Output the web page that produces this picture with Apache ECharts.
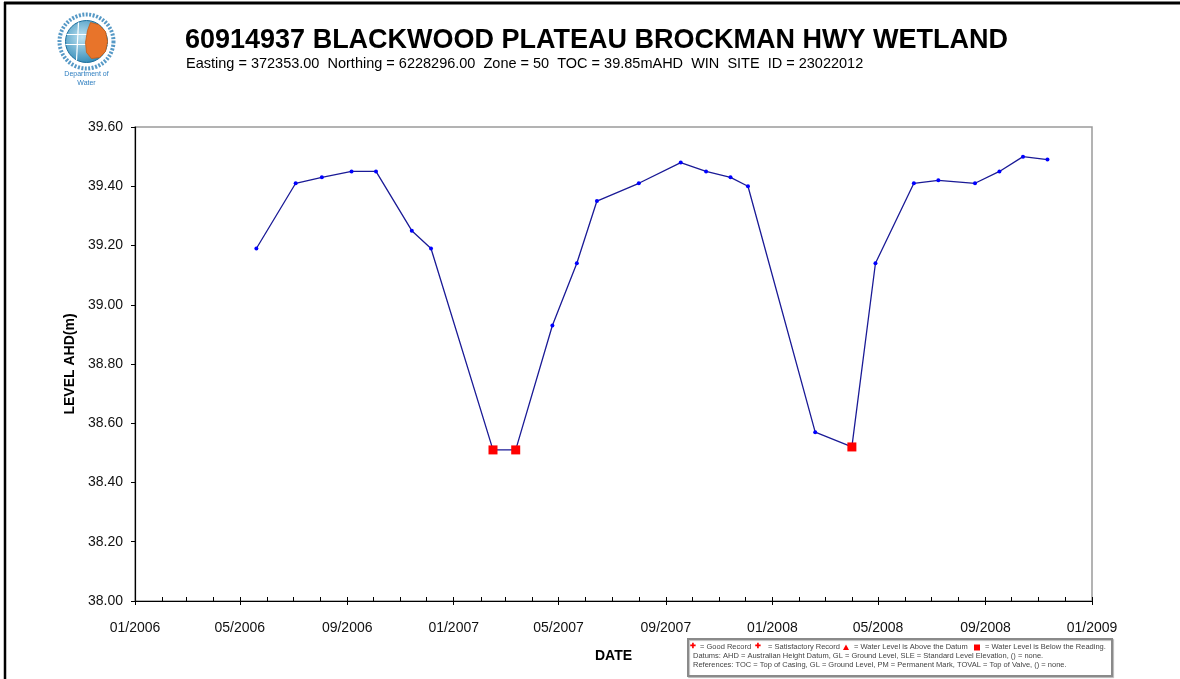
<!DOCTYPE html>
<html>
<head>
<meta charset="utf-8">
<title>60914937 BLACKWOOD PLATEAU BROCKMAN HWY WETLAND</title>
<style>
  html, body { margin: 0; padding: 0; background: #fff; }
  #chart { width: 1180px; height: 679px; }
</style>
</head>
<body>
<div id="chart"></div>
<script src="https://cdn.jsdelivr.net/npm/echarts@6/dist/echarts.min.js"></script>
<script>
// readings
var sampleDates = ['2006-05-20', '2006-07-04', '2006-08-03', '2006-09-06', '2006-10-04', '2006-11-14', '2006-12-06',
  '2007-02-15', '2007-03-13', '2007-04-24', '2007-05-22', '2007-06-14', '2007-08-01', '2007-09-18', '2007-10-17',
  '2007-11-14', '2007-12-04', '2008-02-19', '2008-04-01', '2008-04-28', '2008-06-11', '2008-07-09', '2008-08-20',
  '2008-09-17', '2008-10-14', '2008-11-11'];
var levels = [39.19, 39.41, 39.43, 39.45, 39.45, 39.25, 39.19,
  38.51, 38.51, 38.93, 39.14, 39.35, 39.41, 39.48, 39.45,
  39.43, 39.40, 38.57, 38.52, 39.14, 39.41, 39.42, 39.41,
  39.45, 39.50, 39.49];
// B = water level below the reading, G = good record
var recordStatus = ['G', 'G', 'G', 'G', 'G', 'G', 'G',
  'B', 'B', 'G', 'G', 'G', 'G', 'G', 'G',
  'G', 'G', 'G', 'B', 'G', 'G', 'G', 'G',
  'G', 'G', 'G'];
var majorTicks = ['2006-01', '2006-05', '2006-09', '2007-01', '2007-05', '2007-09', '2008-01', '2008-05', '2008-09', '2009-01'];

var titleText = '60914937 BLACKWOOD PLATEAU BROCKMAN HWY WETLAND';
var subText = 'Easting = 372353.00  Northing = 6228296.00  Zone = 50  TOC = 39.85mAHD  WIN  SITE  ID = 23022012';

function ts(s) {
  var p = s.split('-');
  return Date.UTC(+p[0], +p[1] - 1, p[2] ? +p[2] : 1);
}
function pad(n) { return n < 10 ? '0' + n : '' + n; }

var xMin = ts('2006-01');
var xMax = ts('2009-01');
var majorVals = majorTicks.map(ts);
var monthVals = [];
for (var y = 2006; y <= 2008; y++) {
  for (var m = 0; m < 12; m++) monthVals.push(Date.UTC(y, m, 1));
}
monthVals.push(xMax);

var points = sampleDates.map(function (d, i) {
  var item = { value: [ts(d), levels[i]] };
  if (recordStatus[i] === 'B') {
    item.symbol = 'rect';
    item.symbolSize = 9;
    item.itemStyle = { color: '#ff0000' };
  }
  return item;
});

var font = '"Liberation Sans", Arial, sans-serif';
var keyFont = '7.5px ' + font;
var chart = echarts.init(document.getElementById('chart'), null, { renderer: 'canvas' });

chart.setOption({
  backgroundColor: '#fff',
  animation: false,
  textStyle: { fontFamily: font },
  grid: {
    left: 135, right: 88, top: 127, bottom: 78,
    show: true, borderColor: '#9a9a9a', borderWidth: 1.5, backgroundColor: '#fff'
  },
  xAxis: [{
    type: 'value',
    min: xMin, max: xMax,
    name: 'DATE', nameLocation: 'middle', nameGap: 48,
    nameTextStyle: { fontSize: 14, fontWeight: 'bold', color: '#000' },
    axisLine: { lineStyle: { color: '#000', width: 1.2 } },
    axisTick: { show: true, inside: false, length: 4, customValues: majorVals, lineStyle: { color: '#000' } },
    axisLabel: {
      customValues: majorVals, margin: 20, fontSize: 14, color: '#111',
      formatter: function (v) {
        var d = new Date(v);
        return pad(d.getUTCMonth() + 1) + '/' + d.getUTCFullYear();
      }
    },
    splitLine: { show: false }
  }, {
    type: 'value',
    min: xMin, max: xMax,
    position: 'bottom',
    axisLine: { show: false },
    axisTick: { show: true, inside: true, length: 4, customValues: monthVals, lineStyle: { color: '#000' } },
    axisLabel: { show: false },
    splitLine: { show: false }
  }],
  yAxis: {
    type: 'value',
    min: 38, max: 39.6, interval: 0.2,
    name: 'LEVEL AHD(m)', nameLocation: 'middle', nameGap: 56,
    nameTextStyle: { fontSize: 14, fontWeight: 'bold', color: '#000' },
    axisLine: { show: true, lineStyle: { color: '#000', width: 1.2 } },
    axisTick: { show: true, inside: false, length: 4, lineStyle: { color: '#000' } },
    axisLabel: {
      margin: 12, fontSize: 14, color: '#111',
      formatter: function (v) { return v.toFixed(2); }
    },
    splitLine: { show: false }
  },
  series: [{
    type: 'line',
    data: points,
    symbol: 'circle',
    symbolSize: 4,
    itemStyle: { color: '#0000ff' },
    lineStyle: { color: '#1a1a96', width: 1.3 }
  }],
  graphic: [
    // page frame
    { type: 'line', shape: { x1: 4, y1: 3, x2: 1180, y2: 3 }, style: { stroke: '#000', lineWidth: 3 } },
    { type: 'line', shape: { x1: 5, y1: 2, x2: 5, y2: 679 }, style: { stroke: '#000', lineWidth: 2.5 } },
    // logo
    {
      type: 'group', left: 57, top: 12,
      children: [
        { type: 'circle', shape: { cx: 28, cy: 27, r: 27 }, style: { fill: 'none', stroke: '#2c7fb8', lineWidth: 4, lineDash: [2, 1.5], opacity: 0.8 } },
        {
          type: 'circle', shape: { cx: 28, cy: 27, r: 21 },
          style: {
            fill: new echarts.graphic.RadialGradient(0.4, 0.4, 0.7, [
              { offset: 0, color: '#bfe3f2' }, { offset: 1, color: '#1f7fb0' }
            ]),
            stroke: '#1b6e9c', lineWidth: 1
          }
        },
        { type: 'line', shape: { x1: 8, y1: 20, x2: 48, y2: 20 }, style: { stroke: '#ffffff', lineWidth: 1.2 } },
        { type: 'line', shape: { x1: 7, y1: 30, x2: 49, y2: 30 }, style: { stroke: '#ffffff', lineWidth: 1.2 } },
        { type: 'line', shape: { x1: 20, y1: 8, x2: 18, y2: 46 }, style: { stroke: '#ffffff', lineWidth: 1.2 } },
        {
          type: 'polygon',
          shape: { points: [[32, 8], [40, 10], [47, 17], [49, 27], [47, 37], [41, 43], [33, 44], [28, 38], [27, 28], [29, 16]] },
          style: { fill: '#e8742a', stroke: '#c75a14', lineWidth: 0.8 }
        },
        { type: 'text', x: 28, y: 56, style: { text: 'Department of', fill: '#2f7fc0', font: '7px ' + font, align: 'center' } },
        { type: 'text', x: 28, y: 65, style: { text: 'Water', fill: '#2f7fc0', font: '7px ' + font, align: 'center' } }
      ]
    },
    // title
    { type: 'text', x: 185, y: 27, style: { text: titleText, fill: '#000', font: 'bold 27px ' + font } },
    { type: 'text', x: 186, y: 56, style: { text: subText, fill: '#000', font: '14.5px ' + font } },
    // key box
    {
      type: 'rect', shape: { x: 688, y: 639, width: 424, height: 37 },
      style: { fill: '#fff', stroke: '#8a8a8a', lineWidth: 2, shadowColor: 'rgba(0,0,0,0.25)', shadowOffsetX: 1, shadowOffsetY: 1, shadowBlur: 1 }
    },
    { type: 'text', x: 690, y: 643, style: { text: '✚', fill: '#ff0000', font: 'bold 7px ' + font } },
    { type: 'text', x: 700, y: 643, style: { text: '= Good Record', fill: '#444', font: keyFont } },
    { type: 'text', x: 755, y: 643, style: { text: '✚', fill: '#ff0000', font: 'bold 7px ' + font } },
    { type: 'text', x: 768, y: 643, style: { text: '= Satisfactory Record', fill: '#444', font: keyFont } },
    { type: 'polygon', shape: { points: [[843, 650], [849, 650], [846, 644.5]] }, style: { fill: '#ff0000' } },
    { type: 'text', x: 854, y: 643, style: { text: '= Water Level is Above the Datum', fill: '#444', font: keyFont } },
    { type: 'rect', shape: { x: 974, y: 644.5, width: 6, height: 6 }, style: { fill: '#ff0000' } },
    { type: 'text', x: 985, y: 643, style: { text: '= Water Level is Below the Reading.', fill: '#444', font: keyFont } },
    { type: 'text', x: 693, y: 652, style: { text: 'Datums: AHD = Australian Height Datum, GL = Ground Level, SLE = Standard Level Elevation, () = none.', fill: '#444', font: keyFont } },
    { type: 'text', x: 693, y: 661, style: { text: 'References: TOC = Top of Casing, GL = Ground Level, PM = Permanent Mark, TOVAL = Top of Valve, () = none.', fill: '#444', font: keyFont } }
  ]
});
</script>
</body>
</html>
